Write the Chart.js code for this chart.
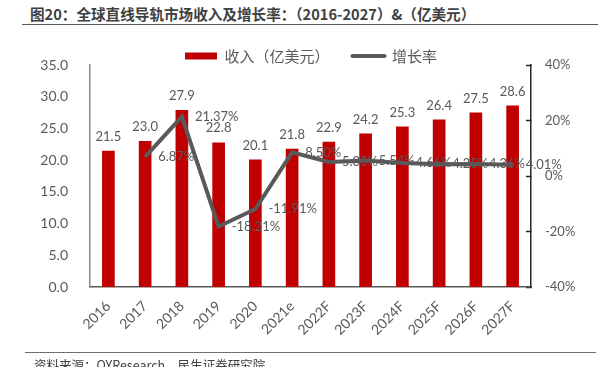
<!DOCTYPE html>
<html>
<head>
<meta charset="utf-8">
<script src="https://cdn.jsdelivr.net/npm/chart.js@4.4.1/dist/chart.umd.min.js"></script>
<style>
  body { margin: 0; background: #fff; }
  #wrap { position: relative; width: 598px; height: 367px; overflow: hidden; background: #fff; }
  #chart { position: absolute; left: 0; top: 0; }
  .title { position: absolute; left: 30px; top: 5px; font: bold 14.6px "Noto Sans CJK SC", sans-serif; line-height: 18px; color: #404040; white-space: nowrap; }
  .rule { position: absolute; height: 1px; background: #595959; }
  .source { position: absolute; left: 34px; top: 357px; font: 12.5px "Noto Sans CJK SC", sans-serif; line-height: 16px; color: #404040; white-space: nowrap; }
</style>
</head>
<body>
<div id="wrap">
  <div class="title">图20：全球直线导轨市场收入及增长率：（2016-2027）&amp;（亿美元）</div>
  <div class="rule" style="left:22px; top:24px; width:576px;"></div>
  <canvas id="chart" width="598" height="367"></canvas>
  <div class="rule" style="left:25px; top:352px; width:571px; background:#6e6e6e;"></div>
  <div class="source">资料来源：QYResearch，民生证券研究院</div>
</div>
<script>
// ── Data ──
const years   = ['2016', '2017', '2018', '2019', '2020', '2021e', '2022F', '2023F', '2024F', '2025F', '2026F', '2027F'];
const revenue = [21.5, 23.0, 27.9, 22.8, 20.1, 21.8, 22.9, 24.2, 25.3, 26.4, 27.5, 28.6];   // 亿美元
const growth  = [null, 6.87, 21.37, -18.21, -11.91, 8.50, 5.05, 5.54, 4.66, 4.25, 4.36, 4.01]; // %
const revenueTicks = { min: 0, max: 35, step: 5 };
const growthTicks  = { min: -40, max: 40, step: 20 };

const NUM_FONT = 'Lato, "Noto Sans CJK SC", sans-serif';
const GREY = '#595959';

// ── Data labels ──
// No datalabels plugin offline, so write the values next to the library's own elements.
const valueLabels = {
    id: 'valueLabels',
    afterDatasetsDraw(chart) {
        const ctx = chart.ctx;
        ctx.save();
        ctx.font = '13px ' + NUM_FONT;
        ctx.fillStyle = GREY;

        // revenue above each bar
        ctx.textAlign = 'center';
        ctx.textBaseline = 'alphabetic';
        chart.getDatasetMeta(0).data.forEach((bar, i) => {
            ctx.fillText(revenue[i].toFixed(1), bar.x, bar.y - 10);
        });

        // growth to the right of each line point
        ctx.textAlign = 'left';
        ctx.textBaseline = 'middle';
        chart.getDatasetMeta(1).data.forEach((pt, i) => {
            if (growth[i] === null) return;
            ctx.fillText(growth[i].toFixed(2) + '%', pt.x + 13, pt.y);
        });
        ctx.restore();
    }
};

new Chart(document.getElementById('chart'), {
    type: 'bar',
    data: {
        labels: years,
        datasets: [
            {
                label: '收入（亿美元）',
                data: revenue,
                backgroundColor: '#C00000',
                barPercentage: 0.345,
                categoryPercentage: 1,
                yAxisID: 'y',
                order: 1
            },
            {
                type: 'line',
                label: '增长率',
                data: growth,
                borderColor: GREY,
                backgroundColor: GREY,
                borderWidth: 4,
                pointRadius: 0,
                tension: 0,
                yAxisID: 'y1',
                order: 0  // keep the line above the bars
            }
        ]
    },
    options: {
        responsive: false,
        animation: false,
        layout: { padding: { top: 25.5, left: 24, right: 0, bottom: 0 } },
        plugins: {
            tooltip: { enabled: false },
            legend: {
                position: 'top',
                maxHeight: 39.5,
                labels: {
                    color: GREY,
                    font: { size: 15, family: '"Noto Sans CJK SC", sans-serif' },
                    usePointStyle: true,
                    pointStyleWidth: 32,
                    boxHeight: 7,
                    padding: 23,
                    sort: (a, b) => a.datasetIndex - b.datasetIndex,
                    generateLabels: chart => [
                        { text: '收入（亿美元）', datasetIndex: 0, pointStyle: 'rect', fillStyle: '#C00000', strokeStyle: '#C00000', lineWidth: 0, fontColor: GREY },
                        { text: '增长率', datasetIndex: 1, pointStyle: 'line', fillStyle: GREY, strokeStyle: GREY, lineWidth: 4, lineCap: 'round', fontColor: GREY }
                    ]
                }
            }
        },
        scales: {
            x: {
                grid: { display: false },
                border: { color: GREY, width: 1.5 },
                ticks: {
                    color: GREY,
                    font: { size: 14, family: NUM_FONT },
                    minRotation: 45,
                    maxRotation: 45,
                    autoSkip: false,
                    padding: 3
                },
                afterFit: scale => { scale.height = 80; }
            },
            y: {
                position: 'left',
                min: revenueTicks.min,
                max: revenueTicks.max,
                grid: { display: false },
                border: { color: '#8c8c8c', width: 1.5 },
                ticks: {
                    stepSize: revenueTicks.step,
                    color: GREY,
                    font: { size: 14, family: NUM_FONT },
                    padding: 14,
                    callback: v => v.toFixed(1)
                },
                afterFit: scale => { scale.width = 66; }
            },
            y1: {
                position: 'right',
                min: growthTicks.min,
                max: growthTicks.max,
                grid: { drawOnChartArea: false, tickLength: -5, color: '#262626', tickWidth: 1.5 },
                border: { color: '#262626', width: 1.5 },
                ticks: {
                    stepSize: growthTicks.step,
                    color: GREY,
                    font: { size: 13, family: NUM_FONT },
                    padding: 19,
                    callback: v => v + '%'
                },
                afterFit: scale => { scale.width = 67; }
            }
        }
    },
    plugins: [valueLabels]
});
</script>
</body>
</html>
